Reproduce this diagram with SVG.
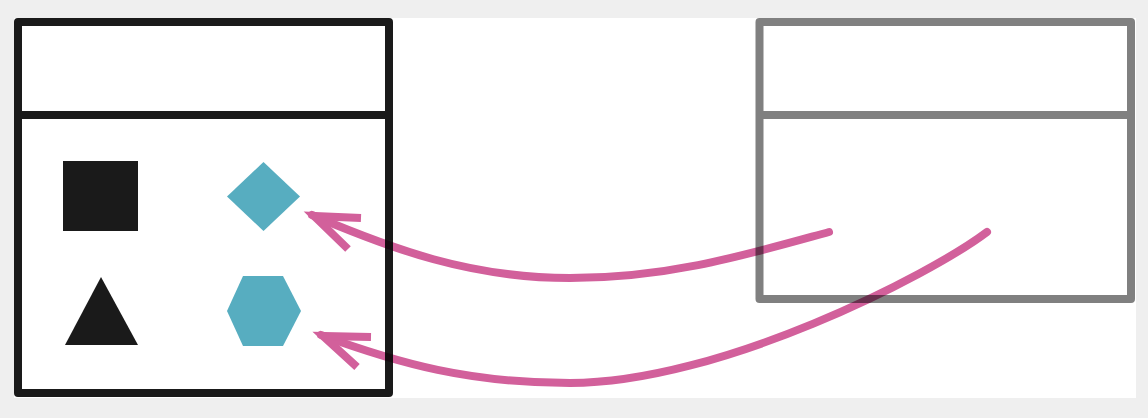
<svg xmlns="http://www.w3.org/2000/svg" width="1148" height="418" viewBox="0 0 1148 418">
<style>
.box{fill:none;stroke-width:8;stroke-linejoin:round}
.dark{stroke:#1a1a1a}
.grey{stroke:#808080}
.teal{fill:#57adc0}
.blk{fill:#1a1a1a}
#connectors{mix-blend-mode:multiply}
.conn{fill:none;stroke:#d2609b;stroke-width:8}
.shaft{stroke-linecap:round}
.head{stroke-linejoin:miter;stroke-linecap:butt;stroke-miterlimit:6}
</style>
<rect x="0" y="0" width="1148" height="418" fill="#efefef"/>
<rect x="14" y="18" width="1122" height="380" fill="#ffffff"/>
<g id="left-box">
<rect class="box dark" x="18" y="22" width="371" height="371"/>
<line class="box dark" x1="18" y1="115" x2="389" y2="115"/>
<rect class="blk" x="63" y="161" width="75" height="70"/>
<polygon class="blk" points="101,277 138,345 65,345"/>
<polygon class="teal" points="263.5,162 300,196.5 263.5,231 227,196.5"/>
<polygon class="teal" points="243,276 283,276 301,311 283,346 243,346 227,311"/>
</g>
<g id="right-box">
<rect class="box grey" x="759.5" y="22" width="371.5" height="277"/>
<line class="box grey" x1="759.5" y1="115" x2="1131" y2="115"/>
</g>
<g id="connectors">
<path class="conn shaft" d="M829,232 C749,254 670,278 570,278 C470,278 392,249 312,215"/>
<path class="conn head" d="M361,218 L314,216 L348,249"/>
<path class="conn shaft" d="M987,232 C930,275 720,383 570,383 C470,383 400,364 321,335"/>
<path class="conn head" d="M371,337 L323,336 L357,367"/>
</g>
</svg>
